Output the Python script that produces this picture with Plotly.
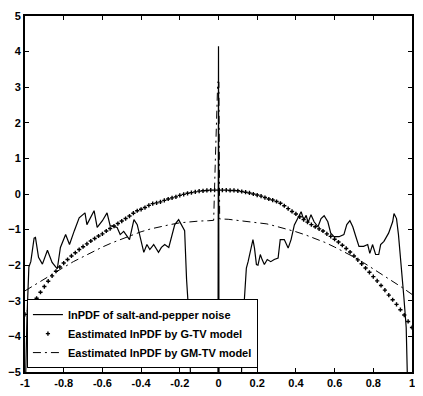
import plotly.graph_objects as go

# ---- Data ----
# lnPDF of salt-and-pepper noise (values below -5 are off the plot)
noise_x = [-1.0, -0.99, -0.98, -0.97, -0.953, -0.946, -0.93, -0.91, -0.884, -0.86, -0.833, -0.817,
           -0.79, -0.77, -0.745, -0.72, -0.69, -0.68, -0.643, -0.627, -0.60, -0.576, -0.56, -0.524,
           -0.508, -0.49, -0.46, -0.437, -0.42, -0.405, -0.386, -0.37, -0.355, -0.335, -0.31, -0.295,
           -0.278, -0.257, -0.242, -0.226, -0.206, -0.19, -0.175, -0.165, -0.155, -0.148, -0.14,
           -0.003, 0.0, 0.003,
           0.115, 0.124, 0.132, 0.144, 0.153, 0.165, 0.178, 0.186, 0.196, 0.204, 0.216, 0.226, 0.237,
           0.252, 0.27, 0.288, 0.308, 0.319, 0.34, 0.36, 0.375, 0.392, 0.41, 0.427, 0.441, 0.453,
           0.463, 0.478, 0.494, 0.514, 0.53, 0.546, 0.565, 0.58, 0.597, 0.623, 0.648, 0.663, 0.679,
           0.694, 0.71, 0.726, 0.75, 0.771, 0.782, 0.796, 0.812, 0.828, 0.838, 0.855, 0.879, 0.9,
           0.907, 0.92, 0.93, 0.945, 0.958, 0.97, 0.976, 0.98, 1.0]
noise_y = [-6.0, -3.5, -2.05, -1.9, -1.24, -1.22, -1.78, -1.97, -1.58, -1.92, -2.1, -1.5,
           -1.14, -1.42, -1.03, -0.67, -0.53, -0.86, -0.47, -0.94, -0.75, -0.53, -0.89, -0.94,
           -1.14, -1.05, -1.28, -0.72, -0.86, -1.22, -1.64, -1.42, -1.56, -1.42, -1.64, -1.5,
           -1.42, -1.5, -1.17, -0.86, -0.72, -0.86, -1.03, -2.4, -3.25, -4.5, -6.0,
           -6.0, 4.15, -6.0,
           -6.0, -3.8, -3.0, -2.08, -1.9, -1.6, -1.28, -1.52, -1.98, -2.0, -1.7, -1.85, -1.98,
           -1.84, -1.9, -1.84, -1.8, -1.28, -1.28, -1.52, -1.28, -0.87, -0.69, -0.5, -0.73, -0.6,
           -0.8, -0.58, -0.78, -0.92, -0.69, -0.61, -0.78, -1.1, -1.2, -1.2, -1.14, -0.86, -0.75,
           -0.92, -1.2, -1.47, -1.47, -1.42, -1.67, -1.42, -1.7, -1.7, -1.42, -1.33, -1.1, -0.78,
           -0.55, -0.69, -1.14, -1.98, -2.9, -3.75, -5.0, -6.0, -6.0]

# Estimated lnPDF by G-TV model (dotted), sampled every 0.02 from -1 to 1
gtv_x = [round(-1.0 + 0.02 * i, 2) for i in range(101)]
gtv_y = [-3.38, -3.28, -3.12, -2.93, -2.76, -2.6, -2.45, -2.3, -2.17, -2.05,
         -1.94, -1.84, -1.74, -1.65, -1.56, -1.48, -1.4, -1.32, -1.25, -1.18,
         -1.12, -1.04, -0.97, -0.9, -0.83, -0.76, -0.69, -0.62, -0.54, -0.47,
         -0.43, -0.38, -0.32, -0.27, -0.25, -0.22, -0.18, -0.14, -0.11, -0.08,
         -0.04, -0.01, 0.02, 0.04, 0.06, 0.08, 0.09, 0.10, 0.11, 0.11,
         0.11,
         0.11, 0.11, 0.10, 0.10, 0.09, 0.07, 0.05, 0.03, 0.0, -0.03,
         -0.06, -0.1, -0.14, -0.17, -0.21, -0.26, -0.33, -0.41, -0.49, -0.56,
         -0.64, -0.72, -0.79, -0.86, -0.92, -0.98, -1.04, -1.12, -1.19, -1.27,
         -1.35, -1.44, -1.53, -1.63, -1.74, -1.85, -1.96, -2.08, -2.2, -2.32,
         -2.44, -2.57, -2.7, -2.84, -2.97, -3.1, -3.25, -3.4, -3.58, -3.75]

# Estimated lnPDF by GM-TV model (dash-dot)
gmtv_x = [-1.0, -0.95, -0.9, -0.85, -0.8, -0.75, -0.7, -0.65, -0.6, -0.55, -0.5, -0.45, -0.4,
          -0.35, -0.3, -0.25, -0.2, -0.15, -0.1, -0.05, -0.025, -0.016, -0.012, -0.008, -0.004,
          0.002, 0.006, 0.05, 0.1, 0.15, 0.2, 0.25, 0.3, 0.35, 0.4, 0.45, 0.5, 0.55, 0.6, 0.65,
          0.7, 0.75, 0.8, 0.85, 0.9, 0.95, 1.0]
gmtv_y = [-2.72, -2.55, -2.38, -2.22, -2.06, -1.9, -1.76, -1.62, -1.49, -1.37, -1.26, -1.15, -1.06,
          -0.98, -0.91, -0.86, -0.81, -0.78, -0.76, -0.75, -0.74, 1.0, 2.0, 2.6, 3.15,
          3.15, -0.70, -0.71, -0.74, -0.77, -0.80, -0.84, -0.91, -0.98, -1.06, -1.15, -1.25, -1.36,
          -1.49, -1.62, -1.77, -1.93, -2.1, -2.27, -2.44, -2.63, -2.82]

x_ticks = [-1, -0.8, -0.6, -0.4, -0.2, 0, 0.2, 0.4, 0.6, 0.8, 1]
x_tick_labels = ["-1", "-0.8", "-0.6", "-0.4", "-0.2", "0", "0.2", "0.4", "0.6", "0.8", "1"]
y_ticks = [-5, -4, -3, -2, -1, 0, 1, 2, 3, 4, 5]

fig = go.Figure()
fig.add_trace(go.Scatter(x=noise_x, y=noise_y, mode="lines",
                         line=dict(color="black", width=1.2),
                         name="lnPDF of salt-and-pepper noise"))
fig.add_trace(go.Scatter(x=gtv_x, y=gtv_y, mode="markers",
                         marker=dict(color="black", size=3.5, symbol="cross"),
                         name="Eastimated lnPDF by G-TV model"))
fig.add_trace(go.Scatter(x=gmtv_x, y=gmtv_y, mode="lines",
                         line=dict(color="black", width=1, dash="8px,4px,2px,4px"),
                         name="Eastimated lnPDF by GM-TV model"))

axis_common = dict(showgrid=False, zeroline=False, showline=True, linecolor="black",
                   linewidth=2, mirror="ticks", ticks="inside", ticklen=4,
                   tickcolor="black", tickwidth=1, automargin=False,
                   tickfont=dict(size=11))

# the page body adds an 8px offset, so margins are reduced on the left/top
fig.update_layout(
    width=423, height=396,
    margin=dict(l=17, r=19, t=8, b=32),
    paper_bgcolor="white", plot_bgcolor="white",
    font=dict(family="Arial, Liberation Sans, sans-serif", size=11, color="black", weight="bold"),
    showlegend=True,
    legend=dict(x=0.005, y=0.011, xanchor="left", yanchor="bottom",
                bgcolor="white", bordercolor="black", borderwidth=1,
                font=dict(size=11), tracegroupgap=0, itemwidth=30),
    xaxis=dict(range=[-1, 1], tickvals=x_ticks, ticktext=x_tick_labels, ticklabelstandoff=0, **axis_common),
    yaxis=dict(range=[-5, 5], tickvals=y_ticks, ticklabelstandoff=0, **axis_common),
)

fig.write_html("out.html")
